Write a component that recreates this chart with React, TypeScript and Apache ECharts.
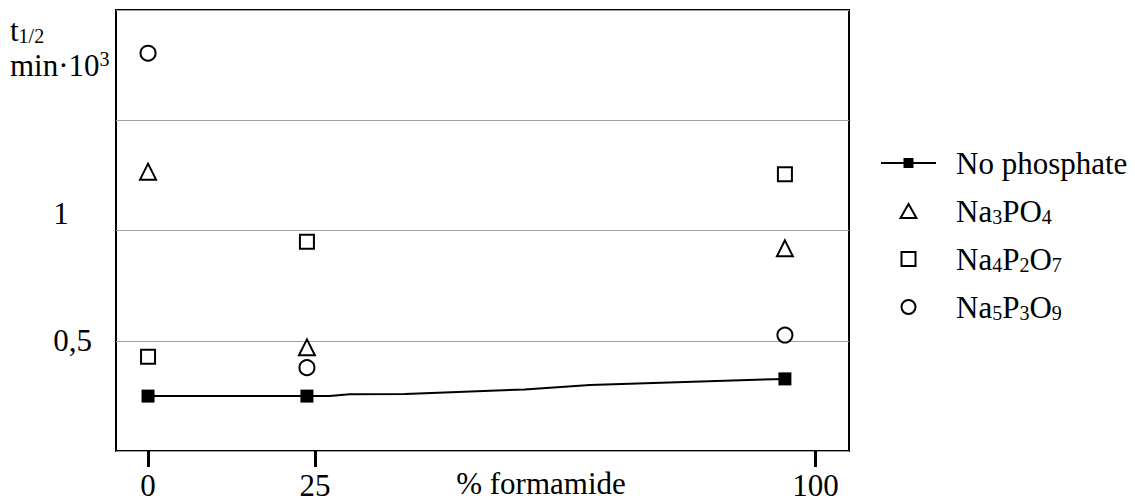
import React, { useEffect, useRef } from 'react';
import * as echarts from 'echarts';

const FONT = "'Liberation Serif', 'Times New Roman', Times, serif";

// Axis ticks and labels
const xTickValues = [0, 25, 100];
const yTickValues = [0.5, 1];
const yTickLabels = ['0,5', '1'];

// Reference curve without phosphate (marked points + bends of the drawn line)
const noPhosphateX = [0, 23.8, 27.2, 30.2, 38.5, 56.4, 66.2, 95.4];
const noPhosphateY = [0.249, 0.249, 0.249, 0.257, 0.259, 0.279, 0.299, 0.327];
const noPhosphateMarked = [true, true, false, false, false, false, false, true];

// Half-life with added phosphates, % formamide positions
const saltX = [0, 23.8, 95.4];
const na3po4 = [1.267, 0.47, 0.919];
const na4p2o7 = [0.428, 0.949, 1.255];
const na5p3o9 = [1.804, 0.378, 0.526];

const seriesNames = ['No phosphate', 'Na3PO4', 'Na4P2O7', 'Na5P3O9'];
const legendLabels = [
  'No phosphate',
  'Na{s|3}PO{s|4}',
  'Na{s|4}P{s|2}O{s|7}',
  'Na{s|5}P{s|3}O{s|9}',
];

// Legend glyphs drawn as paths so they keep their proportions
const legendIcons = [
  'path://M0,6h55v2H0z M22.5,2h10v10h-10z',
  'path://M8.5,0L17,15H0z',
  'path://M0,0h14v14h-14z',
  'path://M7,0A7,7,0,1,1,7,14A7,7,0,1,1,7,0z',
];

const hollow = { color: '#fff', borderColor: '#000', borderWidth: 2, opacity: 1 };

export default function App() {
  const ref = useRef<HTMLDivElement>(null);

  useEffect(() => {
    document.body.style.margin = '0';
    if (!ref.current) return;
    const chart = echarts.init(ref.current, null, { renderer: 'svg' });

    const option = {
      animation: false,
      backgroundColor: '#fff',
      grid: {
        left: 116,
        top: 10,
        right: 286,
        bottom: 48,
        outerBoundsMode: 'none',
        containLabel: false,
        show: true,
        borderColor: '#000',
        borderWidth: 2,
        backgroundColor: 'transparent',
      },
      xAxis: {
        type: 'value',
        min: -4.8,
        max: 105,
        axisLine: { show: false },
        splitLine: { show: false },
        axisTick: {
          show: true,
          customValues: xTickValues,
          length: 16,
          lineStyle: { color: '#000', width: 3 },
        },
        axisLabel: {
          customValues: xTickValues,
          margin: 19,
          fontFamily: FONT,
          fontSize: 31,
          color: '#000',
        },
        name: '% formamide',
        nameLocation: 'middle',
        nameGap: 17,
        nameMoveOverlap: false,
        nameTextStyle: {
          fontFamily: FONT,
          fontSize: 31,
          color: '#000',
          padding: [0, 0, 0, 117],
        },
      },
      yAxis: {
        type: 'value',
        min: 0,
        max: 2,
        interval: 0.5,
        axisLine: { show: false },
        axisTick: { show: false },
        splitLine: { show: true, lineStyle: { color: '#a0a0a0', width: 1 } },
        axisLabel: {
          customValues: yTickValues,
          align: 'center',
          margin: 43.5,
          fontFamily: FONT,
          fontSize: 31,
          color: '#000',
          formatter: (v: number) => {
            const i = yTickValues.indexOf(v);
            const txt = i >= 0 ? yTickLabels[i] : '';
            return i === 1 ? `{up|${txt}}` : txt;
          },
          rich: {
            up: {
              fontFamily: FONT,
              fontSize: 31,
              color: '#000',
              padding: [0, 23, 35, 0],
            },
          },
        },
      },
      legend: {
        orient: 'vertical',
        left: 881,
        top: 147,
        padding: 0,
        itemWidth: 55,
        itemHeight: 14,
        itemGap: 16,
        symbolKeepAspect: true,
        selectedMode: false,
        data: [
          {
            name: seriesNames[0],
            icon: legendIcons[0],
            itemStyle: { color: '#000', borderWidth: 0 },
          },
          { name: seriesNames[1], icon: legendIcons[1], itemStyle: hollow },
          { name: seriesNames[2], icon: legendIcons[2], itemStyle: hollow },
          { name: seriesNames[3], icon: legendIcons[3], itemStyle: hollow },
        ],
        formatter: (name: string) => legendLabels[seriesNames.indexOf(name)],
        textStyle: {
          fontFamily: FONT,
          fontSize: 31,
          lineHeight: 32,
          color: '#000',
          padding: [0, 0, 0, 15],
          rich: {
            s: {
              fontFamily: FONT,
              fontSize: 20,
              lineHeight: 20,
              verticalAlign: 'bottom',
              color: '#000',
            },
          },
        },
      },
      graphic: [
        {
          type: 'text',
          x: 10,
          y: 30,
          style: {
            text: '{b|t}{s|1/2}',
            verticalAlign: 'middle',
            rich: {
              b: { fontFamily: FONT, fontSize: 31, lineHeight: 32, fill: '#000' },
              s: { fontFamily: FONT, fontSize: 20, lineHeight: 20, verticalAlign: 'bottom', fill: '#000' },
            },
          },
        },
        {
          type: 'text',
          x: 10,
          y: 65,
          style: {
            text: '{b|min·10}{p|3}',
            verticalAlign: 'middle',
            rich: {
              b: { fontFamily: FONT, fontSize: 31, lineHeight: 32, fill: '#000' },
              p: { fontFamily: FONT, fontSize: 20, lineHeight: 20, verticalAlign: 'top', fill: '#000' },
            },
          },
        },
      ],
      series: [
        {
          name: seriesNames[0],
          type: 'line',
          symbol: 'rect',
          symbolSize: 13,
          data: noPhosphateX.map((x, i) => ({
            value: [x, noPhosphateY[i]],
            symbol: noPhosphateMarked[i] ? 'rect' : 'none',
          })),
          lineStyle: { color: '#000', width: 2 },
          itemStyle: { color: '#000', borderWidth: 0 },
          z: 3,
        },
        {
          name: seriesNames[1],
          type: 'scatter',
          symbol: 'triangle',
          symbolSize: 16,
          data: saltX.map((x, i) => [x, na3po4[i]]),
          itemStyle: hollow,
        },
        {
          name: seriesNames[2],
          type: 'scatter',
          symbol: 'rect',
          symbolSize: 14,
          data: saltX.map((x, i) => [x, na4p2o7[i]]),
          itemStyle: hollow,
        },
        {
          name: seriesNames[3],
          type: 'scatter',
          symbol: 'circle',
          symbolSize: 15,
          data: saltX.map((x, i) => [x, na5p3o9[i]]),
          itemStyle: hollow,
        },
      ],
    };

    chart.setOption(option as any);
    return () => chart.dispose();
  }, []);

  return <div ref={ref} style={{ width: 1135, height: 499 }} />;
}
